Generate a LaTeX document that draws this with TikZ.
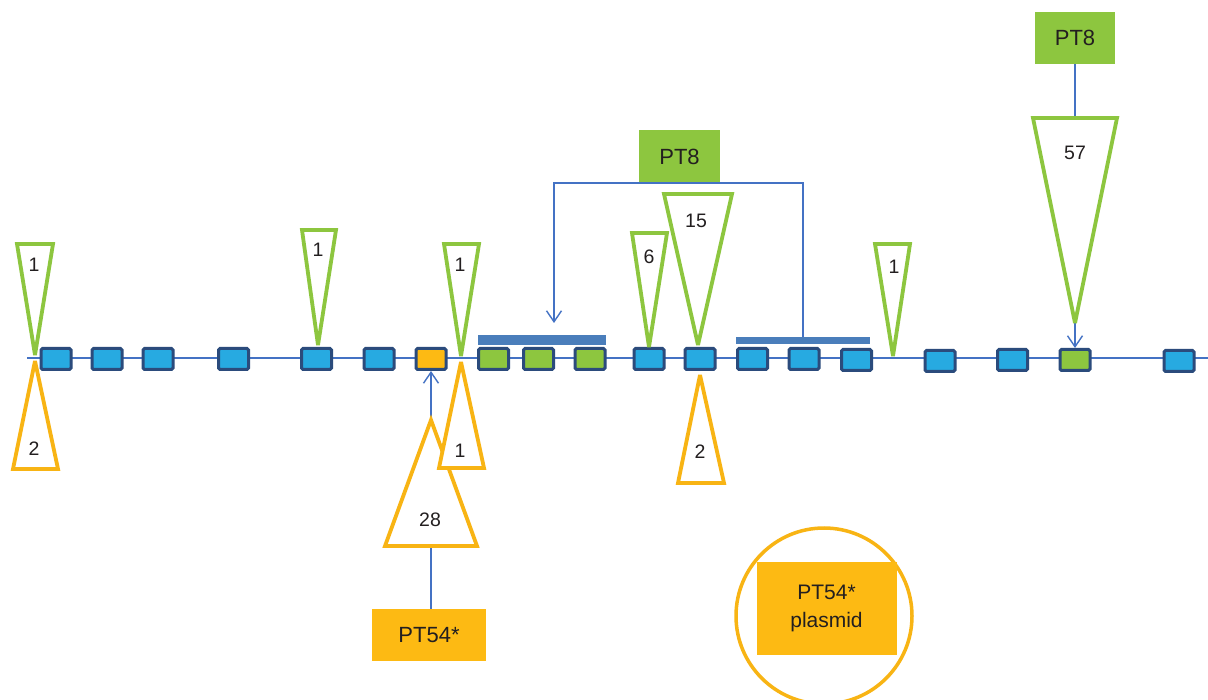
\documentclass[tikz,border=0pt]{standalone}
\usepackage{fontspec}
\setmainfont{Liberation Sans}
\usetikzlibrary{arrows.meta}
\definecolor{gr}{HTML}{8DC63F}
\definecolor{og}{HTML}{FDBA13}
\definecolor{ogs}{HTML}{F8B414}
\definecolor{bl}{HTML}{27AAE1}
\definecolor{bd}{HTML}{2B4B7C}
\definecolor{ln}{HTML}{4472C4}
\definecolor{barc}{HTML}{4A7EBB}
\definecolor{txt}{HTML}{231F20}
\begin{document}
\begin{tikzpicture}[x=1pt,y=-1pt,
  gene/.style={draw=bd, line width=3pt, rounded corners=1.5pt, minimum width=30pt, minimum height=21pt, inner sep=0pt, fill=bl},
  ggene/.style={gene, fill=gr},
  ogene/.style={gene, fill=og},
  gtri/.style={draw=gr, line width=3.8pt, fill=white, line join=miter, miter limit=3},
  otri/.style={draw=ogs, line width=3.8pt, fill=white, line join=miter, miter limit=3},
  conn/.style={draw=ln, line width=1.4pt},
  arr/.style={-{Straight Barb[length=11pt,width=15pt]}},
  num/.style={font=\fontsize{19.5}{22}\selectfont, text=txt, inner sep=0pt},
  lab/.style={font=\fontsize{22}{26}\selectfont, text=txt, inner sep=0pt, align=center},
  barsty/.style={fill=barc, inner sep=0pt},
  ptg/.style={lab, fill=gr, minimum width=80pt, minimum height=52pt},
  pto/.style={lab, fill=og}
]
\useasboundingbox (0,0) rectangle (1208,700);
\fill[white] (0,0) rectangle (1208,700);

% main line
\coordinate (lineL) at (27,358);
\coordinate (lineR) at (1208,358);
\draw[conn, line width=1.6pt] (lineL) -- (lineR);

% genes
\node[gene]  (b1)  at (56,359) {};
\node[gene]  (b2)  at (107,359) {};
\node[gene]  (b3)  at (158,359) {};
\node[gene]  (b4)  at (233.5,359) {};
\node[gene]  (b5)  at (316.5,359) {};
\node[gene]  (b6)  at (379,359) {};
\node[ogene] (b7)  at (431,359) {};
\node[ggene] (b8)  at (493.5,359) {};
\node[ggene] (b9)  at (538.5,359) {};
\node[ggene] (b10) at (590,359) {};
\node[gene]  (b11) at (649,359) {};
\node[gene]  (b12) at (700,359) {};
\node[gene]  (b13) at (752.5,359) {};
\node[gene]  (b14) at (804,359) {};
\node[gene]  (b15) at (856.5,360) {};
\node[gene]  (b16) at (940,361) {};
\node[gene]  (b17) at (1012.5,360) {};
\node[ggene] (b18) at (1075,360) {};
\node[gene]  (b19) at (1179,361) {};

% bars
\node[barsty, minimum width=128pt, minimum height=10.5pt] (bar1) at (542,340) {};
\node[barsty, minimum width=134pt, minimum height=7pt] (bar2) at (803,340.5) {};

% PT8 middle with bracket
\node[ptg, minimum width=81pt] (pt8a) at (679.5,156.5) {PT8};
\coordinate (brL) at (554,183);
\coordinate (brR) at (803,183);
\coordinate (a1) at (554,323);
\draw[conn, arr] (bar2.north -| brR) -- (brR) -- (brL) -- (a1);

% PT8 top
\node[ptg] (pt8b) at (1075,38) {PT8};
\draw[conn, arr] (pt8b.south) -- (b18.north);

% PT54*
\node[pto, minimum width=114pt, minimum height=52pt] (pt54) at (429,635) {PT54*};
\draw[conn, arr] (pt54.north -| b7) -- (b7.south);

% triangles
\draw[gtri] (17,244) -- (53,244) -- (35,355) -- cycle;
\node[num] (n1) at (34,265) {1};
\draw[otri] (13,469) -- (58,469) -- (35,361) -- cycle;
\node[num] (n2) at (34,449) {2};

\draw[gtri] (302,230) -- (336,230) -- (318,345) -- cycle;
\node[num] (n3) at (318,250) {1};

\draw[gtri] (444,244) -- (479,244) -- (461,356) -- cycle;
\node[num] (n4) at (460,265) {1};

\draw[otri] (385,546) -- (477,546) -- (431,420) -- cycle;
\node[num] (n5) at (430,520) {28};
\draw[otri] (439,468) -- (484,468) -- (461,362) -- cycle;
\node[num] (n6) at (460,451) {1};

\draw[gtri] (632,233) -- (667,233) -- (649,347) -- cycle;
\node[num] (n7) at (649,257) {6};
\draw[gtri] (664,194) -- (732,194) -- (698,345) -- cycle;
\node[num] (n8) at (696,221) {15};
\draw[otri] (678,483) -- (724,483) -- (700,375) -- cycle;
\node[num] (n9) at (700,452) {2};

\draw[gtri] (875,244) -- (910,244) -- (893,356) -- cycle;
\node[num] (n10) at (894,267) {1};

\draw[gtri] (1033,118) -- (1117,118) -- (1075,323) -- cycle;
\node[num] (n11) at (1075,153) {57};

% plasmid
\node[draw=ogs, line width=3.5pt, circle, minimum size=176pt, inner sep=0pt] (circ) at (824,616) {};
\node[pto, minimum width=140pt, minimum height=93pt, font=\fontsize{21}{28}\selectfont] (plas) at (826.5,608.5) {PT54*\\plasmid};
\end{tikzpicture}
\end{document}
